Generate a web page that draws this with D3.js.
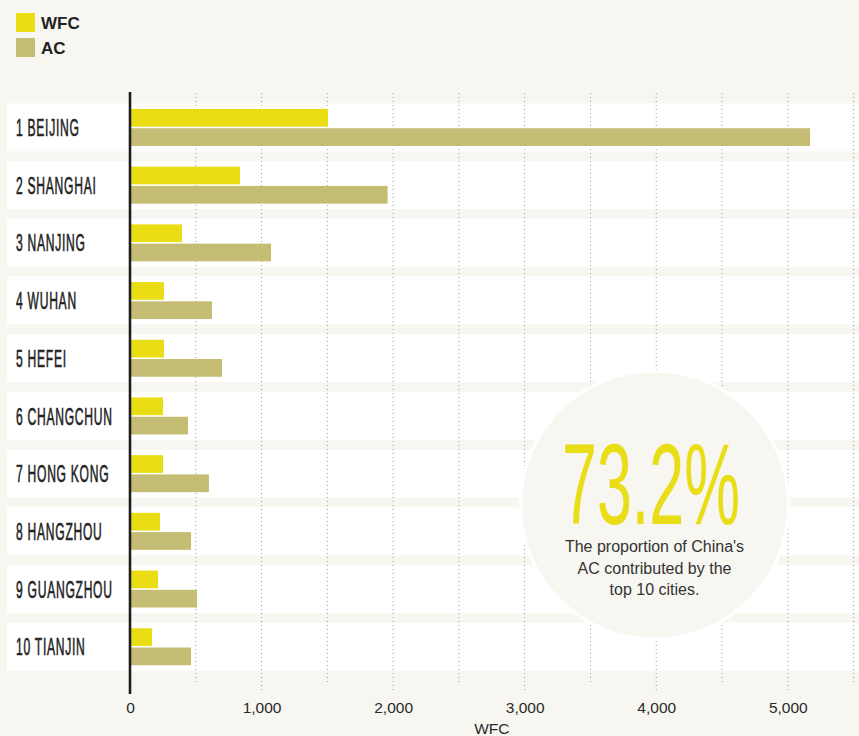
<!DOCTYPE html>
<html>
<head>
<meta charset="utf-8">
<script src="https://cdn.jsdelivr.net/npm/d3@7"></script>
<style>
  html, body { margin: 0; padding: 0; background: #f7f6f1; }
  svg { display: block; }
</style>
</head>
<body>
<svg id="chart"></svg>
<script>
// data
const cities = ['1 BEIJING', '2 SHANGHAI', '3 NANJING', '4 WUHAN', '5 HEFEI',
  '6 CHANGCHUN', '7 HONG KONG', '8 HANGZHOU', '9 GUANGZHOU', '10 TIANJIN'];
const wfc = [1505, 836, 395, 258, 258, 251, 251, 228, 213, 167];
const ac = [5169, 1958, 1072, 623, 699, 441, 600, 464, 509, 464];
const series = ['WFC', 'AC'];
const xTicks = [0, 1000, 2000, 3000, 4000, 5000];
const gridTicks = [500, 1000, 1500, 2000, 2500, 3000, 3500, 4000, 4500, 5000, 5500];

const width = 859, height = 736;
const colors = { WFC: '#ebdd14', AC: '#c6bd74' };

const svg = d3.select('#chart').attr('width', width).attr('height', height);
svg.append('rect').attr('width', width).attr('height', height).attr('fill', '#f7f6f1');

const x = d3.scaleLinear().domain([0, 5500]).range([130, 853.6]);
const y = d3.scaleBand().domain(cities).range([98.6, 675.6])
  .paddingInner(0.168).paddingOuter(0.084);
const inner = d3.scaleBand().domain(series).range([5.5, 42.5]).paddingInner(0.08);

// row bands
svg.append('g').selectAll('rect').data(cities).join('rect')
  .attr('x', 7).attr('y', d => y(d))
  .attr('width', width - 7).attr('height', y.bandwidth())
  .attr('fill', '#ffffff');

// dotted gridlines
svg.append('g').selectAll('line').data(gridTicks).join('line')
  .attr('x1', d => x(d)).attr('x2', d => x(d))
  .attr('y1', 93).attr('y2', d => d % 1000 === 0 ? 692 : 685)
  .attr('stroke', '#9a9a9a').attr('stroke-width', 1)
  .attr('stroke-dasharray', '1,3');

// bars
const rows = svg.append('g').selectAll('g').data(cities).join('g')
  .attr('transform', d => `translate(0,${y(d)})`);
rows.append('rect')
  .attr('x', x(0)).attr('y', inner('WFC'))
  .attr('width', (d, i) => x(wfc[i]) - x(0)).attr('height', inner.bandwidth())
  .attr('fill', colors.WFC);
rows.append('rect')
  .attr('x', x(0)).attr('y', inner('AC'))
  .attr('width', (d, i) => x(ac[i]) - x(0)).attr('height', inner.bandwidth())
  .attr('fill', colors.AC);

// city labels, squeezed to a condensed look
const labels = rows.append('text')
  .attr('y', y.bandwidth() / 2 + 8.6)
  .attr('font-family', '"Liberation Sans Narrow", "Liberation Sans", sans-serif')
  .attr('font-size', 23.5)
  .attr('letter-spacing', 1.4)
  .attr('fill', '#222')
  .attr('stroke', '#222').attr('stroke-width', 0.6)
  .text(d => d);
const k = 96.7 / labels.filter(d => d === '6 CHANGCHUN').node().getComputedTextLength();
labels.attr('transform', `translate(16,0) scale(${k},1)`);

// zero axis line
svg.append('line')
  .attr('x1', x(0)).attr('x2', x(0)).attr('y1', 92).attr('y2', 694)
  .attr('stroke', '#1e1e1e').attr('stroke-width', 2.6);

// x axis labels
const axis = svg.append('g').attr('transform', 'translate(0,694)')
  .call(d3.axisBottom(x).tickValues(xTicks).tickSize(0).tickPadding(0)
    .tickFormat(d3.format(',')));
axis.select('.domain').remove();
axis.selectAll('text')
  .attr('y', 18.5).attr('dy', 0)
  .attr('font-family', '"Liberation Sans", Arial, sans-serif')
  .attr('font-size', 15.5).attr('fill', '#2a2a2a');
svg.append('text')
  .attr('x', x(2750)).attr('y', 734)
  .attr('text-anchor', 'middle')
  .attr('font-family', '"Liberation Sans", Arial, sans-serif')
  .attr('font-size', 15.5).attr('fill', '#2a2a2a')
  .text('WFC');

// legend
const legend = svg.append('g').selectAll('g').data(series).join('g')
  .attr('transform', (d, i) => `translate(16,${13 + i * 25})`);
legend.append('rect').attr('width', 19).attr('height', 19)
  .attr('fill', d => colors[d]);
legend.append('text').attr('x', 25).attr('y', 16.3)
  .attr('font-family', '"Liberation Sans", Arial, sans-serif')
  .attr('font-weight', 'bold').attr('font-size', 17).attr('fill', '#222')
  .text(d => d);

// call-out circle
const cx = 654.5, cy = 505;
svg.append('circle').attr('cx', cx).attr('cy', cy).attr('r', 134)
  .attr('fill', '#f7f6f1').attr('stroke', '#ffffff').attr('stroke-width', 3);
svg.append('text')
  .attr('x', 562).attr('y', 524)
  .attr('textLength', 178).attr('lengthAdjust', 'spacingAndGlyphs')
  .attr('font-family', '"Liberation Sans Narrow", "Liberation Sans", sans-serif')
  .attr('font-size', 115).attr('fill', '#e9dd17')
  .text('73.2%');
const note = ["The proportion of China's", 'AC contributed by the', 'top 10 cities.'];
svg.append('g').selectAll('text').data(note).join('text')
  .attr('x', cx).attr('y', (d, i) => 552 + i * 21.5)
  .attr('text-anchor', 'middle')
  .attr('font-family', '"Liberation Sans", Arial, sans-serif')
  .attr('font-size', 16).attr('fill', '#333')
  .text(d => d);
</script>
</body>
</html>
